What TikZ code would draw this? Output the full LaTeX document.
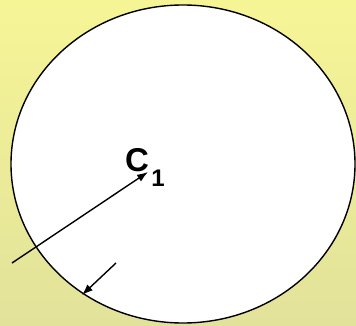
\documentclass[tikz,border=0pt]{standalone}
\usepackage{fontspec}
\setmainfont{Liberation Sans}
\usetikzlibrary{arrows.meta}

\begin{document}
\begin{tikzpicture}[x=1pt, y=-1pt, >={Latex[length=11pt,width=8pt]}]
        % --- 1. Background ---
        \shade[top color={rgb,255:red,246;green,245;blue,150}, bottom color={rgb,255:red,226;green,226;blue,155}]
            (0,0) rectangle (356,326);
        \useasboundingbox (0,0) rectangle (356,326);

        % --- 2. Circle C1 ---
        \coordinate (C1) at (183,164);
        \draw[line width=1.4pt, fill=white] (C1) ellipse (172 and 159);

        % Label
        \node[font=\bfseries\fontsize{33}{33}\selectfont, inner sep=0pt] (lblC) at (137,160) {C};
        \node[font=\bfseries\fontsize{24}{24}\selectfont, inner sep=0pt] (lblOne) at (158,178) {1};

        % --- 3. Arrows ---
        \coordinate (radStart) at (12,263);
        \coordinate (radEnd) at (148,172);
        \draw[->, line width=1.4pt] (radStart) -- (radEnd);

        \coordinate (edgeStart) at (116,263);
        \coordinate (edgeEnd) at (82,295);
        \draw[->, line width=1.4pt] (edgeStart) -- (edgeEnd);
\end{tikzpicture}
\end{document}
